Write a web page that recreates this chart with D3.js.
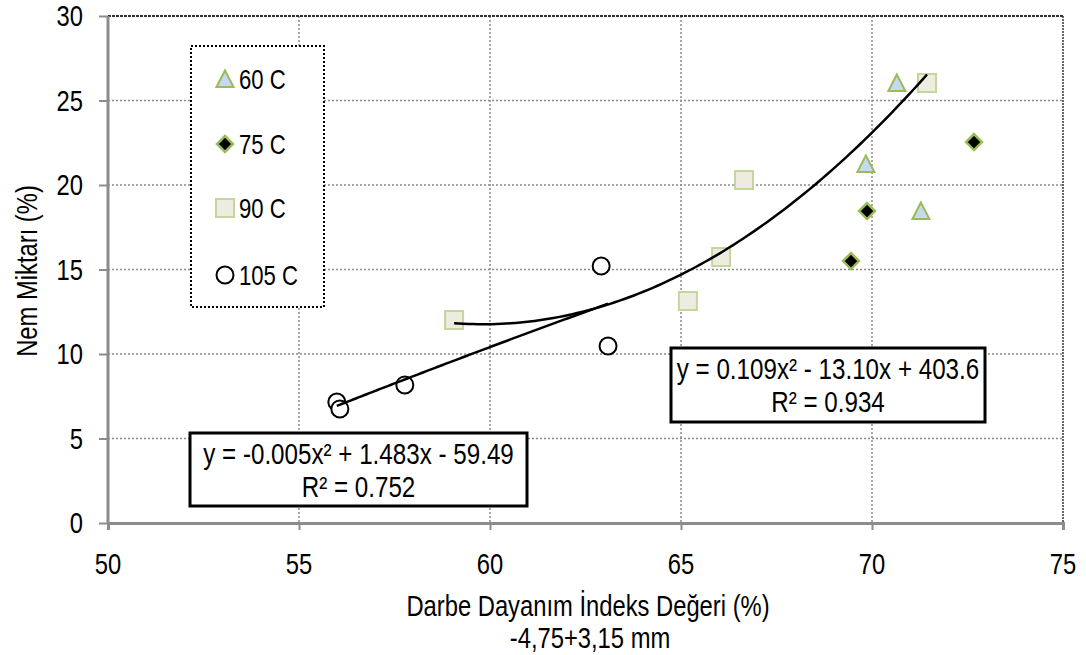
<!DOCTYPE html>
<html>
<head>
<meta charset="utf-8">
<script src="https://cdn.jsdelivr.net/npm/d3@7"></script>
<style>
  html, body { margin: 0; padding: 0; background: #fff; }
  svg { display: block; }
  text { fill: #000; }
</style>
</head>
<body>
<svg id="chart" width="1086" height="655"></svg>
<script>
// ---- data ----
const xTicks = [50, 55, 60, 65, 70, 75];
const yTicks = [0, 5, 10, 15, 20, 25, 30];

const seriesNames = ["60 C", "75 C", "90 C", "105 C"];

const x60 = [70.65, 69.84, 71.28];
const y60 = [26.04, 21.24, 18.46];

const x75 = [72.67, 69.87, 69.45];
const y75 = [22.54, 18.46, 15.50];

const x90 = [71.44, 66.65, 66.05, 65.18, 59.06];
const y90 = [26.04, 20.30, 15.74, 13.14, 12.01];

const x105 = [55.99, 56.07, 57.77, 62.91, 63.09];
const y105 = [7.16, 6.75, 8.17, 15.21, 10.47];

// polynomial trendlines: [a, b, c] for y = a x^2 + b x + c
const trend90 = [0.10949, -13.10, 403.6];
const trend105 = [-0.0053, 1.483, -59.49];
const trendDigits90 = [3, 2, 1];
const trendDigits105 = [3, 3, 2];
const r2Values = [0.934, 0.752];

const xTitle = "Darbe Dayanım İndeks Değeri (%)";
const xSubTitle = "-4,75+3,15 mm";
const yTitle = "Nem Miktarı (%)";

// ---- font handling: condensed sans ----
const svg = d3.select("#chart");
const NARROW = '"Liberation Sans Narrow", "Arial Narrow", sans-serif';
const REGULAR = '"Liberation Sans", Arial, sans-serif';
const hasNarrow = (() => {
  const a = svg.append("text").attr("font-family", NARROW).attr("font-size", 30).text("Darbe Dayanım 0123");
  const b = svg.append("text").attr("font-family", REGULAR).attr("font-size", 30).text("Darbe Dayanım 0123");
  const r = a.node().getComputedTextLength() / b.node().getComputedTextLength();
  a.remove(); b.remove();
  return r < 0.9;
})();
const SQUEEZE = hasNarrow ? 1 : 0.82;
const FONT = hasNarrow ? NARROW : REGULAR;

// text placed at (x, y) with optional rotation, condensed horizontally if needed
function label(parent, x, y, str, size, anchor, rotate) {
  const g = parent.append("g")
    .attr("transform", `translate(${x},${y})` + (rotate ? ` rotate(${rotate})` : "") + ` scale(${SQUEEZE},1)`);
  return g.append("text").attr("font-family", FONT).attr("font-size", size)
    .attr("text-anchor", anchor || "start").text(str);
}

// ---- layout ----
const plot = { left: 108, right: 1063, top: 16, bottom: 523 };

const x = d3.scaleLinear().domain([50, 75]).range([plot.left, plot.right]);
const y = d3.scaleLinear().domain([0, 30]).range([plot.bottom, plot.top]);

// grid
const grid = svg.append("g");
grid.selectAll("line.vg").data(xTicks.filter(d => d > 50 && d < 75)).join("line")
  .attr("x1", d => x(d)).attr("x2", d => x(d))
  .attr("y1", plot.top).attr("y2", plot.bottom)
  .attr("stroke", "#8a8a8a").attr("stroke-width", 1.5).attr("stroke-dasharray", "2,2");
grid.selectAll("line.hg").data(yTicks.filter(d => d > 0 && d < 30)).join("line")
  .attr("x1", plot.left).attr("x2", plot.right)
  .attr("y1", d => y(d)).attr("y2", d => y(d))
  .attr("stroke", "#8a8a8a").attr("stroke-width", 1.5).attr("stroke-dasharray", "2,2");

// top and right frame
svg.append("line").attr("x1", plot.left).attr("x2", plot.right)
  .attr("y1", plot.top).attr("y2", plot.top)
  .attr("stroke", "#333").attr("stroke-width", 2).attr("stroke-dasharray", "3,1");
svg.append("line").attr("x1", plot.right).attr("x2", plot.right)
  .attr("y1", plot.top).attr("y2", plot.bottom)
  .attr("stroke", "#333").attr("stroke-width", 1.5).attr("stroke-dasharray", "2,1");

// axes (lines and ticks from d3.axis, labels placed with the condensed helper)
const yAxis = d3.axisLeft(y).tickValues(yTicks).tickSize(9).tickFormat("");
const xAxis = d3.axisBottom(x).tickValues(xTicks).tickSize(7).tickFormat("");

const gy = svg.append("g").attr("transform", `translate(${plot.left},0)`).call(yAxis);
const gx = svg.append("g").attr("transform", `translate(0,${plot.bottom})`).call(xAxis);
[gx, gy].forEach(g => {
  g.select(".domain").attr("stroke", "#8c8c8c").attr("stroke-width", 3);
  g.selectAll(".tick line").attr("stroke", "#8c8c8c").attr("stroke-width", 2);
});
gy.select(".domain").attr("d", `M0,${plot.bottom}V${plot.top}`);

const tickFmt = d3.format("d");
yTicks.forEach(v => label(svg, 83, y(v) + 10, tickFmt(v), 29, "end"));
xTicks.forEach(v => label(svg, x(v), 574, tickFmt(v), 29, "middle"));

// axis titles
label(svg, 588, 616, xTitle, 29, "middle");
label(svg, 590, 648, xSubTitle, 29, "middle");
label(svg, 37, 271, yTitle, 29, "middle", -90);

// marker shapes
const markerStyles = [
  { fill: "#c6d9f1", stroke: "#9bbb59", sw: 2,
    path: "M0,-8.5L8.5,8L-8.5,8Z" },
  { fill: "#000000", stroke: "#9bbb59", sw: 2.5,
    path: "M0,-8L8,0L0,8L-8,0Z" },
  { fill: "#eeece1", stroke: "#c3d69b", sw: 2,
    path: "M-9,-9H9V9H-9Z" },
  { fill: "#ffffff", stroke: "#000000", sw: 2,
    path: "M8.5,0A8.5,8.5 0 1,1 -8.5,0A8.5,8.5 0 1,1 8.5,0Z" }
];

const seriesData = [
  d3.zip(x60, y60), d3.zip(x75, y75), d3.zip(x90, y90), d3.zip(x105, y105)
];

// equation boxes (drawn beneath trendlines and markers)
function fmtTerm(v, digits, first) {
  const s = Math.abs(v).toFixed(digits);
  if (first) return (v < 0 ? "-" : "") + s;
  return (v < 0 ? " - " : " + ") + s;
}
function equation(coef, digits) {
  return "y = " + fmtTerm(coef[0], digits[0], true) + "x²" +
    fmtTerm(coef[1], digits[1], false) + "x" +
    fmtTerm(coef[2], digits[2], false);
}

const boxes = [
  { coef: trend105, digits: trendDigits105, r2: r2Values[1], x0: 190, y0: 433, w: 337, h: 73 },
  { coef: trend90, digits: trendDigits90, r2: r2Values[0], x0: 671, y0: 348, w: 314, h: 74 }
];
boxes.forEach(b => {
  svg.append("rect").attr("x", b.x0).attr("y", b.y0).attr("width", b.w).attr("height", b.h)
    .attr("fill", "#fff").attr("stroke", "#000").attr("stroke-width", 3);
  label(svg, b.x0 + b.w / 2, b.y0 + 31, equation(b.coef, b.digits), 29.5, "middle");
  label(svg, b.x0 + b.w / 2, b.y0 + 64, "R² = " + b.r2.toFixed(3), 29.5, "middle");
});

// markers
seriesData.forEach((pts, i) => {
  const st = markerStyles[i];
  svg.append("g").selectAll("path").data(pts).join("path")
    .attr("transform", d => `translate(${x(d[0])},${y(d[1])})`)
    .attr("d", st.path)
    .attr("fill", st.fill).attr("stroke", st.stroke).attr("stroke-width", st.sw);
});

// trendlines
function trendPoints(coef, xs) {
  const [lo, hi] = d3.extent(xs);
  return d3.range(0, 101).map(i => {
    const xv = lo + (hi - lo) * i / 100;
    return [xv, coef[0] * xv * xv + coef[1] * xv + coef[2]];
  });
}
const line = d3.line().x(d => x(d[0])).y(d => y(d[1]));
[[trend90, x90], [trend105, x105]].forEach(([coef, xs]) => {
  svg.append("path").attr("d", line(trendPoints(coef, xs)))
    .attr("fill", "none").attr("stroke", "#000").attr("stroke-width", 2.5);
});

// legend
const lg = svg.append("g");
lg.append("rect").attr("x", 191).attr("y", 46).attr("width", 133).attr("height", 261)
  .attr("fill", "#fff").attr("stroke", "#000").attr("stroke-width", 2).attr("stroke-dasharray", "2,2");
const legendRows = [79, 144, 208, 275];
seriesNames.forEach((name, i) => {
  const st = markerStyles[i];
  lg.append("path").attr("transform", `translate(225,${legendRows[i]})`)
    .attr("d", st.path).attr("fill", st.fill).attr("stroke", st.stroke).attr("stroke-width", st.sw);
  label(lg, 239, legendRows[i] + 10, name, 27, "start");
});
</script>
</body>
</html>
